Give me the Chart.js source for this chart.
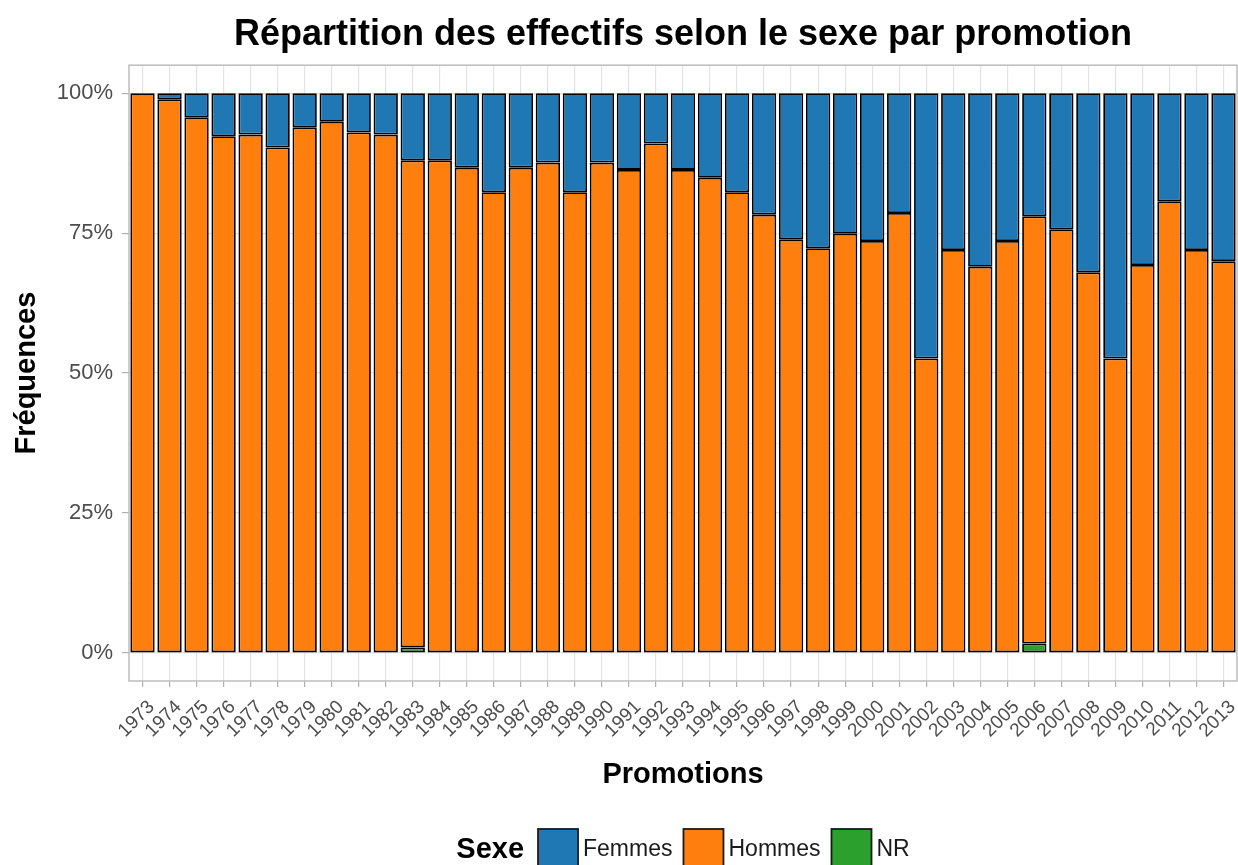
<!DOCTYPE html>
<html lang="fr">
<head>
<meta charset="utf-8">
<title>Répartition des effectifs selon le sexe par promotion</title>
<script src="https://cdn.jsdelivr.net/npm/chart.js@4.4.1/dist/chart.umd.min.js"></script>
<style>
    html, body { margin: 0; padding: 0; background: #ffffff; }
    #wrap { width: 1238px; height: 865px; position: relative; }
</style>
</head>
<body>
<div id="wrap"><canvas id="sexeChart"></canvas></div>
<script>
// Promotions (catégories)
const promotions = ['1973', '1974', '1975', '1976', '1977', '1978', '1979', '1980', '1981', '1982',
    '1983', '1984', '1985', '1986', '1987', '1988', '1989', '1990', '1991', '1992',
    '1993', '1994', '1995', '1996', '1997', '1998', '1999', '2000', '2001', '2002',
    '2003', '2004', '2005', '2006', '2007', '2008', '2009', '2010', '2011', '2012', '2013'];

// Fréquences en %
const femmes = [0, 1.1, 4.3, 7.7, 7.4, 9.7, 6.1, 5.1, 7.0, 7.4,
    12.0, 12.0, 13.3, 17.7, 13.3, 12.4, 17.7, 12.4, 13.7, 9.0,
    13.7, 15.1, 17.7, 21.7, 26.1, 27.7, 25.1, 26.4, 21.4, 47.4,
    28.0, 31.0, 26.4, 22.0, 24.3, 32.0, 47.4, 30.7, 19.3, 28.0, 30.0];

const hommes = [100, 98.9, 95.7, 92.3, 92.6, 90.3, 93.9, 94.9, 93.0, 92.6,
    87.0, 88.0, 86.7, 82.3, 86.7, 87.6, 82.3, 87.6, 86.3, 91.0,
    86.3, 84.9, 82.3, 78.3, 73.9, 72.3, 74.9, 73.6, 78.6, 52.6,
    72.0, 69.0, 73.6, 76.3, 75.7, 68.0, 52.6, 69.3, 80.7, 72.0, 70.0];

const nr = [0, 0, 0, 0, 0, 0, 0, 0, 0, 0,
    1.0, 0, 0, 0, 0, 0, 0, 0, 0, 0,
    0, 0, 0, 0, 0, 0, 0, 0, 0, 0,
    0, 0, 0, 1.7, 0, 0, 0, 0, 0, 0, 0];

// Graduations de l'axe Y (majeures + mineures)
const yTicks = [0, 12.5, 25, 37.5, 50, 62.5, 75, 87.5, 100];

const FONT = '"Liberation Sans", Arial, sans-serif';

// Title centred on the panel (like ggplot) instead of on the canvas
const panelTitle = {
    id: 'panelTitle',
    afterLayout(chart) {
        const t = chart.titleBlock;
        if (t) {
            t.left = chart.chartArea.left;
            t.right = chart.chartArea.right;
            t.width = t.right - t.left;
        }
    }
};

// Panel border + ggplot style legend ("Sexe" inline with the keys)
const panelDecor = {
    id: 'panelDecor',
    afterDraw(chart) {
        const ctx = chart.ctx;
        const area = chart.chartArea;
        ctx.save();
        ctx.strokeStyle = '#bdbdbd';
        ctx.lineWidth = 1.5;
        ctx.strokeRect(area.left, area.top, area.right - area.left, area.bottom - area.top);

        // legend
        const items = chart.data.datasets.slice().reverse();
        const boxW = 40, boxH = 44, boxTop = 829, midY = boxTop + 21;
        ctx.textBaseline = 'middle';
        ctx.font = 'bold 29px ' + FONT;
        const titleW = ctx.measureText('Sexe').width;
        ctx.font = '23px ' + FONT;
        let total = titleW + 14;
        items.forEach((d, i) => {
            total += boxW + 5 + ctx.measureText(d.label).width + (i < items.length - 1 ? 11 : 0);
        });
        let x = (area.left + area.right) / 2 - total / 2;

        ctx.fillStyle = '#000000';
        ctx.font = 'bold 29px ' + FONT;
        ctx.textAlign = 'left';
        ctx.fillText('Sexe', x, midY);
        x += titleW + 14;

        ctx.font = '23px ' + FONT;
        items.forEach(d => {
            ctx.fillStyle = d.backgroundColor;
            ctx.fillRect(x, boxTop, boxW, boxH);
            ctx.strokeStyle = '#1a1a1a';
            ctx.lineWidth = 1.8;
            ctx.strokeRect(x, boxTop, boxW, boxH);
            x += boxW + 5;
            ctx.fillStyle = '#1a1a1a';
            ctx.fillText(d.label, x, midY);
            x += ctx.measureText(d.label).width + 11;
        });
        ctx.restore();
    }
};

function barSet(label, data, color) {
    return {
        label: label,
        data: data,
        backgroundColor: color,
        borderColor: '#000000',
        borderWidth: 1.8,
        borderSkipped: false,
        barPercentage: 0.9,
        categoryPercentage: 1.0
    };
}

new Chart(document.getElementById('sexeChart').getContext('2d'), {
    type: 'bar',
    data: {
        labels: promotions,
        datasets: [
            barSet('NR', nr, '#2ca02c'),
            barSet('Hommes', hommes, '#ff7f0e'),
            barSet('Femmes', femmes, '#1f77b4')
        ]
    },
    options: {
        responsive: true,
        maintainAspectRatio: false,
        animation: false,
        layout: { padding: { left: 0, right: 1, top: 0, bottom: 73 } },
        plugins: {
            legend: { display: false },
            tooltip: { enabled: false },
            title: {
                display: true,
                text: 'Répartition des effectifs selon le sexe par promotion',
                color: '#000000',
                font: { family: FONT, size: 36, weight: 'bold' },
                padding: { top: 13, bottom: 9 }
            }
        },
        scales: {
            x: {
                stacked: true,
                offset: true,
                grid: {
                    offset: false,
                    color: '#e3e3e3',
                    lineWidth: 1.2,
                    tickLength: 6,
                    tickColor: '#b0b0b0'
                },
                border: { display: false },
                ticks: {
                    autoSkip: false,
                    maxRotation: 45,
                    minRotation: 45,
                    padding: 9,
                    labelOffset: 9,
                    color: '#4d4d4d',
                    font: { family: FONT, size: 19 }
                },
                title: {
                    display: true,
                    text: 'Promotions',
                    color: '#000000',
                    font: { family: FONT, size: 29, weight: 'bold' },
                    padding: { top: 0, bottom: 0 }
                },
                afterFit(scale) {
                    scale.height = 111;
                    scale.paddingLeft = 0;
                    scale.paddingRight = 0;
                }
            },
            y: {
                stacked: true,
                min: -5,
                max: 105,
                afterBuildTicks(scale) {
                    scale.ticks = yTicks.map(v => ({ value: v }));
                },
                grid: {
                    color: '#e3e3e3',
                    lineWidth: ctx => (ctx.tick && ctx.tick.value % 25 === 0) ? 1.2 : 0.6,
                    tickLength: 7,
                    tickColor: ctx => (ctx.tick && ctx.tick.value % 25 === 0) ? '#b0b0b0' : 'rgba(0,0,0,0)'
                },
                border: { display: false },
                ticks: {
                    padding: 9,
                    color: '#4d4d4d',
                    font: { family: FONT, size: 22 },
                    callback: v => (v % 25 === 0) ? v + '%' : ''
                },
                title: {
                    display: true,
                    text: 'Fréquences',
                    color: '#000000',
                    font: { family: FONT, size: 29, weight: 'bold' },
                    padding: { top: 10, bottom: 0 }
                },
                afterFit(scale) { scale.width = 129; }
            }
        }
    },
    plugins: [panelTitle, panelDecor]
});
</script>
</body>
</html>
